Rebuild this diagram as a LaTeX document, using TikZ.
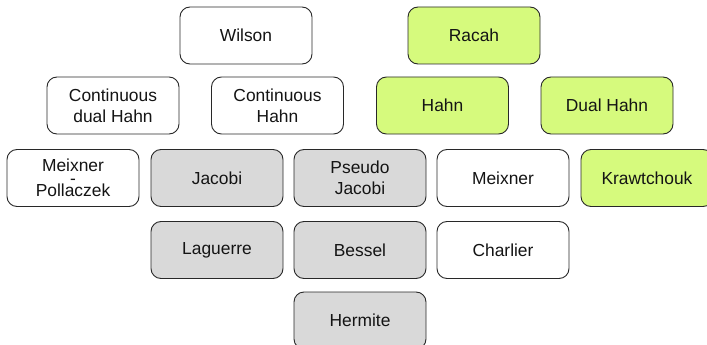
\documentclass[tikz,border=0pt]{standalone}
\usepackage{fontspec}
\setmainfont{Liberation Sans}
\definecolor{boxgreen}{RGB}{214,250,125}
\definecolor{boxgray}{RGB}{217,217,217}
\definecolor{boxline}{RGB}{40,40,40}
\definecolor{txt}{RGB}{20,20,20}
\begin{document}
\begin{tikzpicture}[x=1pt,y=-1pt,
  fam/.style={draw=boxline, line width=0.9pt, rounded corners=10pt,
    minimum width=132pt, minimum height=57pt, inner sep=0pt,
    align=center, text=txt, font=\fontsize{17.4}{20.7}\selectfont},
  wbox/.style={fam, fill=white},
  gbox/.style={fam, fill=boxgreen},
  kbox/.style={fam, fill=boxgray}]
\useasboundingbox (0,0) rectangle (707,345);
% row 1
\node[wbox] (wilson) at (246,35.5) {Wilson};
\node[gbox] (racah) at (474,35.5) {Racah};
% row 2
\node[wbox] (cdh) at (113,105.5) {Continuous\\dual Hahn};
\node[wbox] (ch) at (277.5,105.5) {Continuous\\Hahn};
\node[gbox] (hahn) at (442.5,105.5) {Hahn};
\node[gbox] (dualhahn) at (607,105.5) {Dual Hahn};
% row 3
\node[wbox] (mp) at (73,178) {Meixner\\[-8pt]-\\[-8pt]Pollaczek};
\node[kbox] (jacobi) at (217,178) {Jacobi};
\node[kbox] (pj) at (360,178) {Pseudo\\Jacobi};
\node[wbox] (meixner) at (503,178) {Meixner};
\node[gbox] (kraw) at (647,178) {Krawtchouk};
% row 4
\node[kbox] (laguerre) at (217,250) {Laguerre};
\node[kbox] (bessel) at (360,250) {Bessel};
\node[wbox] (charlier) at (503,250) {Charlier};
% row 5
\node[kbox] (hermite) at (360,320.5) {Hermite};
\end{tikzpicture}
\end{document}
